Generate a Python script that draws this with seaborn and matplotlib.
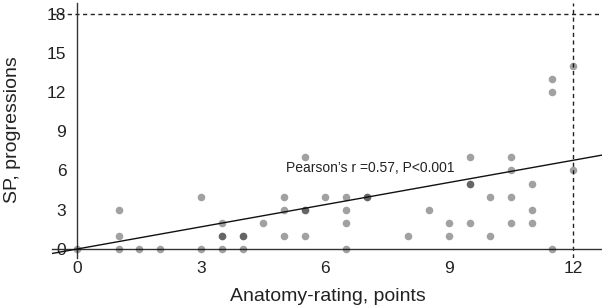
import seaborn as sns
import matplotlib.pyplot as plt
import pandas as pd

# anatomy rating (points) vs SP progressions; repeated pairs = overlapping dots
anatomy = [0, 1, 1.5, 2, 3, 3.5, 4, 6.5, 11.5,
           1, 1, 3, 3.5, 3.5, 3.5, 4, 4, 4.5,
           5, 5, 5, 5.5, 5.5, 5.5, 5.5, 6,
           6.5, 6.5, 6.5, 7, 7, 8, 8.5, 9, 9,
           9.5, 9.5, 9.5, 9.5, 10, 10,
           10.5, 10.5, 10.5, 10.5, 11, 11, 11,
           11.5, 11.5, 12, 12]
progressions = [0, 0, 0, 0, 0, 0, 0, 0, 0,
                1, 3, 4, 2, 1, 1, 1, 1, 2,
                4, 3, 1, 7, 3, 3, 1, 4,
                4, 3, 2, 4, 4, 1, 3, 2, 1,
                7, 5, 5, 2, 4, 1,
                7, 6, 4, 2, 5, 3, 2,
                13, 12, 14, 6]

fit_intercept = 0.0
fit_slope = 0.565
r_text = "Pearson\u2019s r =0.57, P<0.001"
x_ticks = [0, 3, 6, 9, 12]
y_ticks = [0, 3, 6, 9, 12, 15, 18]

df = pd.DataFrame({'x': anatomy, 'y': progressions})

sns.set_style("white")
plt.rcParams['font.family'] = ['Liberation Sans', 'DejaVu Sans']

fig = plt.figure(figsize=(6.02, 3.08), dpi=100)
ax = fig.add_axes([0.086, 0.162, 0.914, 0.828])

sns.scatterplot(data=df, x='x', y='y', color='black', alpha=0.37,
                s=30, linewidth=0, ax=ax, zorder=3)

ax.axline((0, fit_intercept), slope=fit_slope, color='#111111', lw=1.0, zorder=4)
ax.axhline(18, color='#222222', lw=1.0, ls=(0, (3, 2.5)))
ax.axvline(12, color='#222222', lw=1.0, ls=(0, (3, 2.5)))

ax.text(5.05, 5.9, r_text, fontsize=10, color='#222222')

ax.set_xlim(-0.62, 12.7)
ax.set_ylim(-0.7, 18.8)
ax.set_xticks(x_ticks)
ax.set_yticks(y_ticks)

for side in ['top', 'right']:
    ax.spines[side].set_visible(False)
ax.spines['left'].set_position(('data', 0))
ax.spines['bottom'].set_position(('data', 0))
for side in ['left', 'bottom']:
    ax.spines[side].set_color('#333333')
    ax.spines[side].set_linewidth(1.0)

ax.tick_params(axis='both', direction='out', length=6, width=1,
               color='#333333', labelsize=12.5, labelcolor='#222222', pad=2)
ax.tick_params(axis='x', pad=3)

# labels placed in figure coords since spines sit at the data origin
fig.text(0.545, 0.036, 'Anatomy-rating, points', ha='center', va='center',
         fontsize=14, color='#222222')
fig.text(0.006, 0.578, 'SP, progressions', ha='left', va='center',
         rotation=90, fontsize=14, color='#222222')
ax.set_xlabel('')
ax.set_ylabel('')

fig.savefig('out.png', dpi=100)
